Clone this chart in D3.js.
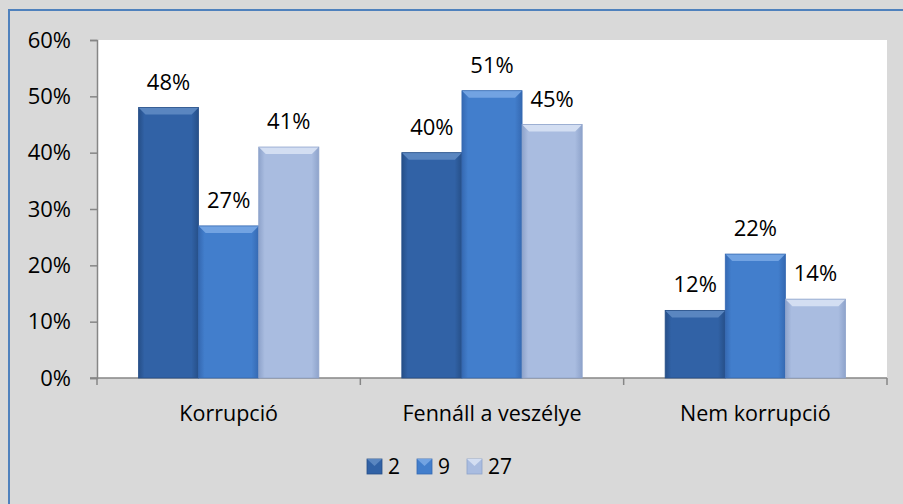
<!DOCTYPE html>
<html>
<head>
<meta charset="utf-8">
<script src="https://cdn.jsdelivr.net/npm/d3@7"></script>
<style>
  body { margin: 0; background: #fff; }
  svg text { font-family: "Open Sans", "Liberation Sans", sans-serif; fill: #000; }
</style>
</head>
<body>
<div id="chart"></div>
<script>
// data
const categories = ["Korrupció", "Fennáll a veszélye", "Nem korrupció"];
const seriesNames = ["2", "9", "27"];
const values = [
  [48, 40, 12],   // 2
  [27, 51, 22],   // 9
  [41, 45, 14]    // 27
];
const yTicks = [0, 10, 20, 30, 40, 50, 60];

const w = 903, h = 504;
const plot = {left: 97, right: 887, top: 40, bottom: 378};

// base colours for each series: [edge, centre, top bevel]
const colors = [
  ["#264f88", "#3162a6", "#5a86c0"],
  ["#3569b2", "#427ecc", "#72a3e2"],
  ["#8ea3cb", "#a9bce0", "#d3def2"]
];

const svg = d3.select("#chart").append("svg")
  .attr("width", w).attr("height", h);

// gradients
const defs = svg.append("defs");
colors.forEach((c, i) => {
  const g = defs.append("linearGradient").attr("id", "g" + i)
    .attr("x1", 0).attr("x2", 1).attr("y1", 0).attr("y2", 0);
  g.append("stop").attr("offset", "0%").attr("stop-color", c[0]);
  g.append("stop").attr("offset", "10%").attr("stop-color", c[1]);
  g.append("stop").attr("offset", "88%").attr("stop-color", c[1]);
  g.append("stop").attr("offset", "100%").attr("stop-color", c[0]);
});

// background
svg.append("rect").attr("x", 0).attr("y", 0).attr("width", w).attr("height", h).attr("fill", "#d9d9d9");
svg.append("path").attr("d", `M9,${h} L9,10 L${w},10`)
  .attr("fill", "none").attr("stroke", "#4f81bd").attr("stroke-width", 2);

svg.append("rect")
  .attr("x", plot.left).attr("y", plot.top)
  .attr("width", plot.right - plot.left).attr("height", plot.bottom - plot.top)
  .attr("fill", "#fff");

// scales
const x0 = d3.scaleBand().domain(categories).range([plot.left, plot.right]).paddingInner(0).paddingOuter(0);
const x1 = d3.scaleBand().domain(seriesNames).range([0, x0.bandwidth()]).paddingInner(0).paddingOuter(0.69);
const y = d3.scaleLinear().domain([0, 60]).range([plot.bottom, plot.top]);

// y axis
const yAxis = d3.axisLeft(y).tickValues(yTicks).tickFormat(d => d + "%").tickSize(7).tickPadding(19);
const gy = svg.append("g").attr("transform", `translate(${plot.left},0)`).call(yAxis);
gy.select(".domain").attr("stroke", "#868686").attr("stroke-width", 1.5);
gy.selectAll(".tick line").attr("stroke", "#868686").attr("stroke-width", 1.5);
gy.selectAll("text").style("font-size", "22px").attr("fill", "#000");

// x axis
const gx = svg.append("g").attr("transform", `translate(0,${plot.bottom})`);
gx.append("line").attr("x1", plot.left - 7).attr("x2", plot.right).attr("y1", 0).attr("y2", 0)
  .attr("stroke", "#868686").attr("stroke-width", 1.5);
const bounds = categories.map(c => x0(c)).concat([plot.right]);
gx.selectAll(".bt").data(bounds).enter().append("line")
  .attr("x1", d => d).attr("x2", d => d).attr("y1", 0).attr("y2", 7)
  .attr("stroke", "#868686").attr("stroke-width", 1.5);
gx.selectAll(".cl").data(categories).enter().append("text")
  .attr("x", d => x0(d) + x0.bandwidth() / 2).attr("y", 43)
  .attr("text-anchor", "middle").style("font-size", "21.5px").text(d => d);

// bars
const bev = 7;
seriesNames.forEach((s, si) => {
  const g = svg.append("g");
  const data = categories.map((c, ci) => ({c, v: values[si][ci]}));
  const bx = d => x0(d.c) + x1(s);
  const bw = x1.bandwidth();
  g.selectAll("rect.bar").data(data).enter().append("rect")
    .attr("x", d => bx(d)).attr("y", d => y(d.v))
    .attr("width", bw).attr("height", d => y(0) - y(d.v))
    .attr("fill", `url(#g${si})`);
  // top bevel
  g.selectAll("path.top").data(data).enter().append("path")
    .attr("d", d => `M${bx(d)},${y(d.v)} L${bx(d) + bw},${y(d.v)} L${bx(d) + bw - bev},${y(d.v) + bev} L${bx(d) + bev},${y(d.v) + bev} Z`)
    .attr("fill", colors[si][2]);
  // outline shadow
  g.selectAll("rect.ol").data(data).enter().append("rect")
    .attr("x", d => bx(d)).attr("y", d => y(d.v))
    .attr("width", bw).attr("height", d => y(0) - y(d.v))
    .attr("fill", "none").attr("stroke", colors[si][0]).attr("stroke-width", 0.8);
  // value labels
  g.selectAll("text").data(data).enter().append("text")
    .attr("x", d => bx(d) + bw / 2).attr("y", d => y(d.v) - 18)
    .attr("text-anchor", "middle").style("font-size", "22px")
    .text(d => d.v + "%");
});

// legend
const legend = svg.append("g").attr("transform", "translate(367,459)");
const legX = [0, 50, 100];
seriesNames.forEach((s, i) => {
  const lg = legend.append("g").attr("transform", `translate(${legX[i]},0)`);
  lg.append("rect").attr("width", 15).attr("height", 15).attr("fill", colors[i][1]).attr("stroke", colors[i][0]).attr("stroke-width", 0.8);
  lg.append("path").attr("d", "M0,0 L15,0 L7.5,7 Z").attr("fill", colors[i][2]);
  lg.append("text").attr("x", 21).attr("y", 15).style("font-size", "21px").text(s);
});
</script>
</body>
</html>
